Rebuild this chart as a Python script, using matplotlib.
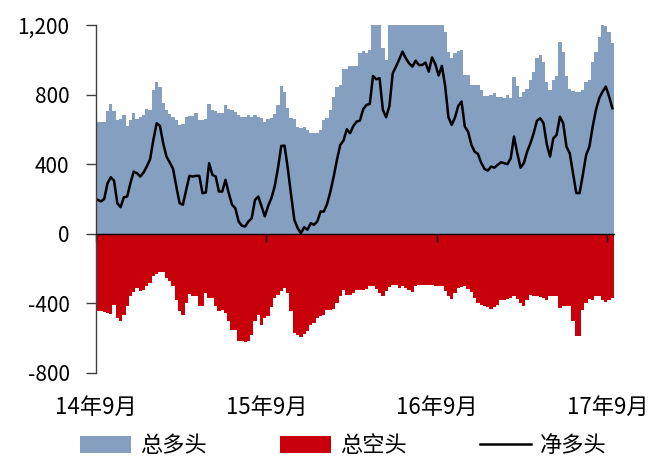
import matplotlib
matplotlib.use("Agg")
import matplotlib.pyplot as plt
import numpy as np

plt.rcParams['font.family'] = ['Noto Sans CJK SC', 'DejaVu Sans']

# weekly data, Sep 2014 - Sep 2017 (values above 1,200 are clipped in the original)
long_pos = [
    641, 641, 641, 708, 745, 708, 655, 660, 683, 620,
    655, 697, 660, 670, 680, 716, 712, 827, 871, 846,
    750, 712, 689, 674, 655, 626, 630, 674, 678, 678,
    693, 655, 655, 660, 745, 712, 708, 693, 697, 741,
    716, 712, 702, 683, 674, 674, 683, 674, 683, 670,
    664, 645, 660, 664, 689, 741, 852, 817, 722, 664,
    658, 616, 607, 612, 597, 582, 578, 578, 597, 655,
    664, 712, 785, 846, 856, 946, 946, 967, 967, 967,
    1037, 1053, 1037, 1056, 1250, 1260, 1270, 1068, 1000, 1240,
    1219, 1258, 1315, 1349, 1319, 1305, 1298, 1294, 1265, 1265,
    1277, 1225, 1311, 1272, 1207, 1265, 1161, 1047, 1010, 1039,
    1050, 1056, 913, 913, 855, 855, 855, 827, 792, 792,
    797, 808, 786, 786, 783, 797, 783, 900, 850, 786,
    817, 830, 884, 932, 1008, 1027, 990, 875, 827, 884,
    905, 1104, 1047, 908, 830, 820, 817, 817, 827, 870,
    884, 990, 1047, 1133, 1200, 1195, 1160, 1095,
]

short_pos = [
    -442, -442, -448, -455, -461, -408, -484, -503, -465, -413,
    -360, -337, -312, -331, -321, -302, -283, -245, -230, -222,
    -222, -254, -274, -302, -379, -446, -465, -398, -344, -356,
    -356, -413, -413, -341, -369, -369, -417, -446, -436, -455,
    -503, -551, -555, -618, -618, -624, -618, -580, -503, -465,
    -523, -484, -470, -421, -369, -350, -331, -312, -341, -446,
    -570, -580, -593, -575, -561, -523, -510, -484, -471, -465,
    -436, -436, -430, -398, -360, -325, -350, -350, -341, -325,
    -325, -321, -318, -302, -302, -320, -341, -360, -330, -308,
    -297, -297, -312, -302, -310, -325, -337, -299, -295, -295,
    -293, -293, -297, -299, -299, -299, -331, -356, -375, -341,
    -312, -305, -299, -318, -337, -369, -398, -408, -417, -421,
    -433, -420, -408, -379, -379, -372, -369, -356, -375, -398,
    -417, -379, -350, -355, -360, -364, -370, -379, -360, -356,
    -356, -427, -413, -417, -417, -503, -585, -585, -440, -398,
    -375, -378, -356, -360, -379, -394, -380, -369,
]

net_pos = [
    195, 186, 200, 290, 325, 306, 176, 153, 210, 214,
    291, 358, 348, 329, 352, 387, 429, 540, 635, 620,
    520, 444, 410, 373, 272, 176, 167, 252, 333, 329,
    333, 333, 233, 237, 406, 339, 329, 243, 243, 310,
    233, 167, 147, 71, 46, 42, 71, 90, 195, 214,
    157, 100, 160, 205, 272, 377, 505, 507, 377, 224,
    80, 33, 4, 38, 23, 61, 52, 71, 128, 128,
    172, 243, 329, 425, 511, 536, 601, 578, 620, 645,
    651, 716, 741, 746, 907, 888, 894, 712, 670, 735,
    922, 961, 1003, 1047, 1009, 980, 961, 995, 970, 970,
    984, 932, 1014, 975, 910, 965, 850, 670, 626, 668,
    735, 760, 616, 587, 511, 472, 459, 408, 373, 363,
    386, 380, 396, 411, 406, 400, 434, 559, 463, 380,
    406, 472, 520, 578, 650, 664, 636, 515, 444, 549,
    568, 673, 636, 501, 463, 348, 234, 234, 339, 453,
    501, 616, 712, 779, 817, 846, 790, 722,
]

year_labels = ['14年9月', '15年9月', '16年9月', '17年9月']
year_start = [0, 52, 104, 156]
y_ticks = [-800, -400, 0, 400, 800, 1200]
y_tick_labels = ['-800', '-400', '0', '400', '800', '1,200']

axis_color = '#404040'

fig = plt.figure(figsize=(6.5, 4.58), dpi=100)
ax = fig.add_axes([0.1477, 0.1856, 0.7969, 0.7598])

x = np.arange(len(long_pos))
b1 = ax.bar(x, long_pos, width=1.0, color='#849FBF', linewidth=0, label='总多头')
b2 = ax.bar(x, short_pos, width=1.0, color='#C8000B', linewidth=0, label='总空头')
l1, = ax.plot(x, net_pos, color='black', linewidth=1.8, label='净多头')

ax.set_xlim(-0.5, len(x) - 0.5)
ax.set_ylim(-800, 1200)
ax.set_yticks(y_ticks)
ax.set_yticklabels(y_tick_labels, fontsize=15)
ax.tick_params(axis='y', direction='out', length=7, width=1, pad=12,
               color=axis_color)

for s in ['top', 'right']:
    ax.spines[s].set_visible(False)
ax.spines['left'].set_linewidth(1)
ax.spines['left'].set_color(axis_color)
ax.spines['bottom'].set_position(('data', 0))
ax.spines['bottom'].set_linewidth(1)
ax.spines['bottom'].set_color('black')
ax.spines['bottom'].set_zorder(5)

tick_pos = [s - 0.5 for s in year_start]
ax.set_xticks(tick_pos)
ax.tick_params(axis='x', direction='out', length=6, width=1, labelbottom=False)

for p, lab in zip(tick_pos, year_labels):
    ax.text(p, -0.098, lab, transform=ax.get_xaxis_transform(),
            ha='center', va='center', fontsize=16)

fig.legend(handles=[b1, b2, l1], loc='center', bbox_to_anchor=(0.528, 0.027),
           ncol=3, frameon=False, fontsize=16, handlelength=2.3,
           handleheight=0.75, handletextpad=0.4, columnspacing=3.3,
           borderaxespad=0, borderpad=0)

fig.savefig('out.png', dpi=100)
